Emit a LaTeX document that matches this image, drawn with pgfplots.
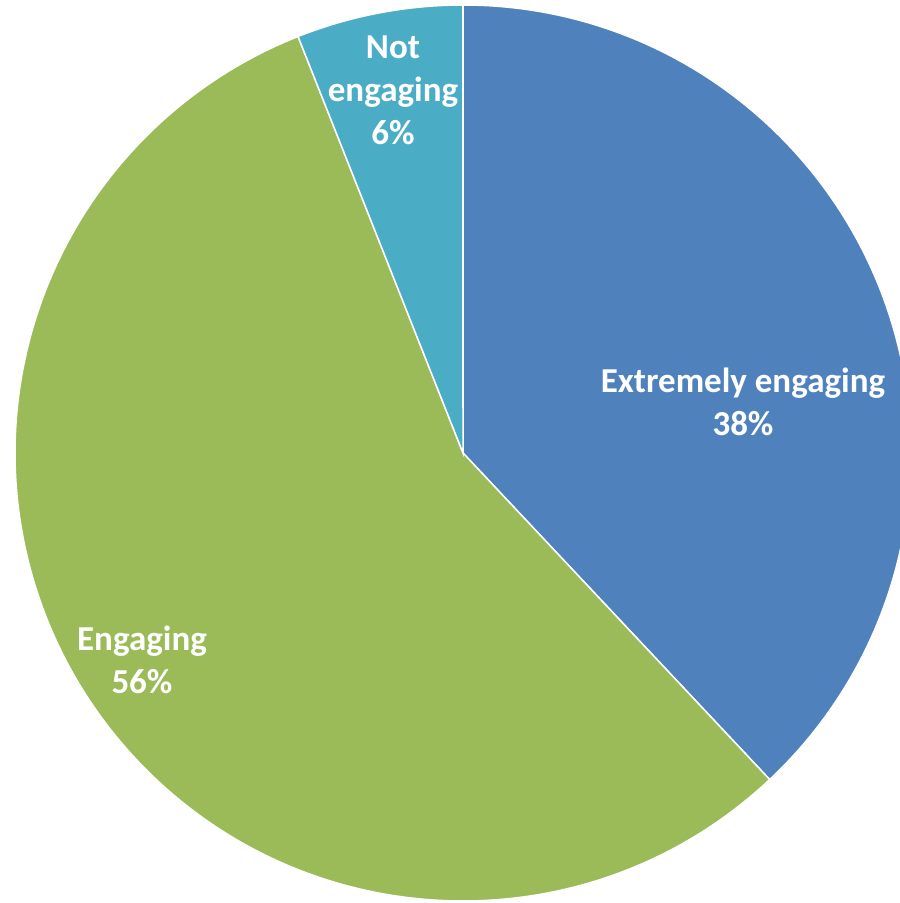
\documentclass[border=0pt]{standalone}
\usepackage{pgfplots}
\pgfplotsset{compat=1.18}
\usepackage{pgfplotstable}
\usepackage{fontspec}
\setmainfont{Carlito}
\definecolor{cBlue}{HTML}{4F81BD}
\definecolor{cGreen}{HTML}{9BBB59}
\definecolor{cTeal}{HTML}{4BACC6}
\pgfplotstableread{
label value
{Extremely engaging} 38
Engaging 56
{Not engaging} 6
}\piedata
\pgfplotstablegetelem{0}{value}\of\piedata \let\vA\pgfplotsretval
\pgfplotstablegetelem{1}{value}\of\piedata \let\vB\pgfplotsretval
\pgfplotstablegetelem{2}{value}\of\piedata \let\vC\pgfplotsretval
\pgfmathsetmacro{\tot}{\vA+\vB+\vC}
\pgfmathsetmacro{\aA}{90}
\pgfmathsetmacro{\aB}{90-\vA/\tot*360}
\pgfmathsetmacro{\aC}{\aB-\vB/\tot*360}
\pgfmathsetmacro{\aD}{\aC-\vC/\tot*360}
\def\R{448pt}
\begin{document}
\begin{tikzpicture}
\useasboundingbox (0,0) rectangle (900pt,903pt);
\begin{axis}[
  at={(0,0)}, anchor=south west,
  width=900pt, height=903pt, scale only axis,
  xmin=0, xmax=900, ymin=0, ymax=903,
  axis lines=none, clip=true,
]
\fill[cBlue, draw=white, line width=1.5pt] (axis cs:463,450) -- ++(\aA:\R) arc[start angle=\aA, end angle=\aB, radius=\R] -- cycle;
\fill[cGreen, draw=white, line width=1.5pt] (axis cs:463,450) -- ++(\aB:\R) arc[start angle=\aB, end angle=\aC, radius=\R] -- cycle;
\fill[cTeal, draw=white, line width=1.5pt] (axis cs:463,450) -- ++(\aC:\R) arc[start angle=\aC, end angle=\aD, radius=\R] -- cycle;
\node[text=white, font=\bfseries\fontsize{35}{43}\selectfont, align=center] at (axis cs:743,501) {Extremely engaging\\38\%};
\node[text=white, font=\bfseries\fontsize{35}{43}\selectfont, align=center] at (axis cs:142,243) {Engaging\\56\%};
\node[text=white, font=\bfseries\fontsize{35}{43}\selectfont, align=center] at (axis cs:393,813) {Not\\engaging\\6\%};
\end{axis}
\end{tikzpicture}
\end{document}
